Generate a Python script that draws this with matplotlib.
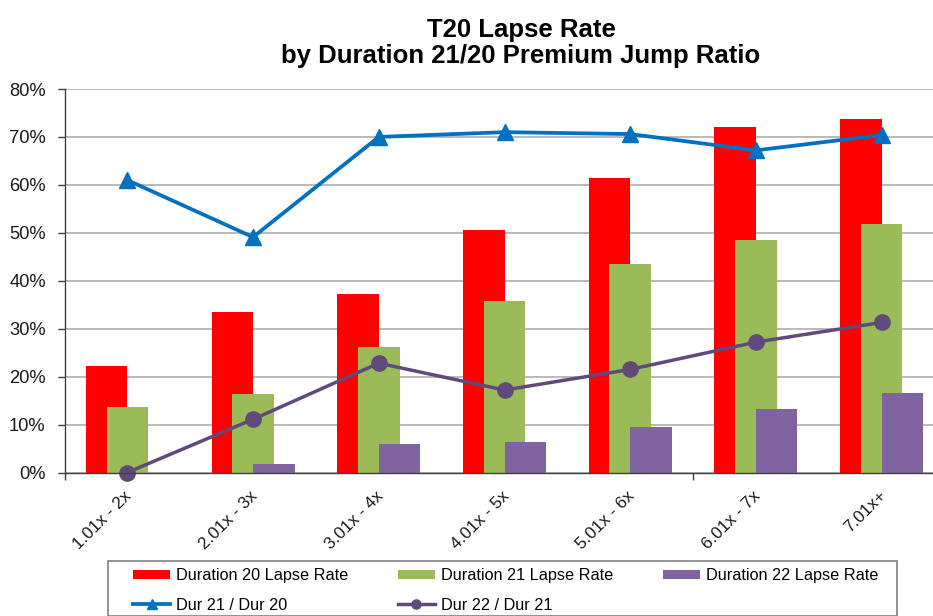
import numpy as np
import matplotlib
matplotlib.use('Agg')
import matplotlib.pyplot as plt
from matplotlib.patches import Rectangle
from matplotlib.ticker import PercentFormatter, MultipleLocator
import matplotlib.transforms as mtransforms

categories = ['1.01x - 2x', '2.01x - 3x', '3.01x - 4x', '4.01x - 5x',
              '5.01x - 6x', '6.01x - 7x', '7.01x+']
dur20 = [0.223, 0.334, 0.372, 0.505, 0.615, 0.721, 0.738]
dur21 = [0.136, 0.164, 0.261, 0.358, 0.434, 0.484, 0.519]
dur22 = [0.000, 0.018, 0.060, 0.063, 0.094, 0.132, 0.165]
ratio_21_20 = [0.610, 0.491, 0.700, 0.710, 0.706, 0.672, 0.704]
ratio_22_21 = [0.000, 0.111, 0.228, 0.172, 0.215, 0.272, 0.313]

plt.rcParams['font.family'] = ['Liberation Sans', 'DejaVu Sans']

W, H = 933, 616
fig = plt.figure(figsize=(W / 100, H / 100), dpi=100)

# plot area runs past the right edge of the picture, like the source
left, right, top, bottom = 64.5, 944.5, 89, 472.5
ax = fig.add_axes([left / W, 1 - bottom / H, (right - left) / W, (bottom - top) / H])

x = np.arange(len(categories))
width = 0.33
off = 0.165

ax.bar(x - off, dur20, width, color='#FF0000', label='Duration 20 Lapse Rate', zorder=2)
ax.bar(x, dur21, width, color='#9BBB59', label='Duration 21 Lapse Rate', zorder=3)
ax.bar(x + off, dur22, width, color='#8064A2', label='Duration 22 Lapse Rate', zorder=4)

l1, = ax.plot(x, ratio_21_20, color='#0070C0', lw=2.7, marker='^', ms=11,
              label='Dur 21 / Dur 20', zorder=5, clip_on=False)
l2, = ax.plot(x, ratio_22_21, color='#604A7B', lw=2.5, marker='o', ms=11,
              label='Dur 22 / Dur 21', zorder=6, clip_on=False)

ax.set_xlim(-0.5, len(categories) - 0.5)
ax.set_ylim(0, 0.8)
ax.yaxis.set_major_locator(MultipleLocator(0.1))
ax.yaxis.set_major_formatter(PercentFormatter(1.0, decimals=0))
ax.grid(axis='y', color='#a6a6a6', lw=1.1, zorder=0)
ax.set_axisbelow(True)

for s in ['top', 'right']:
    ax.spines[s].set_visible(False)
for s in ['left', 'bottom']:
    ax.spines[s].set_color('#404040')
    ax.spines[s].set_linewidth(1.0)
    ax.spines[s].set_zorder(7)

ax.tick_params(axis='y', length=5, width=1, color='#404040', pad=8.5,
               labelsize=13.2, labelcolor='#1a1a1a')
ax.set_xticks(x)
ax.set_xticklabels(categories, rotation=45, ha='right', va='center',
                   rotation_mode='anchor', fontsize=12.3, color='#1a1a1a')
ax.tick_params(axis='x', which='major', length=0, pad=15)
ax.set_xticks([-0.5, 4.5], minor=True)
ax.tick_params(axis='x', which='minor', length=5, width=1, color='#404040')
shift = mtransforms.ScaledTranslation(2 / 100, 0, fig.dpi_scale_trans)
for lab in ax.get_xticklabels():
    lab.set_transform(lab.get_transform() + shift)

fig.text(521 / W, 1 - 18 / H, 'T20 Lapse Rate\nby Duration 21/20 Premium Jump Ratio',
         ha='center', va='top', fontsize=18.5, fontweight='bold',
         linespacing=1.1, color='black')

# legend box
fig.patches.append(Rectangle((108 / W, 0), (897 - 108) / W, 1 - 561 / H,
                             transform=fig.transFigure, fill=False,
                             edgecolor='#808080', lw=1.2))
bars = ax.containers
handles = [bars[0], l1, bars[1], l2, bars[2]]
labels = [h.get_label() for h in handles]
fig.legend(handles, labels, ncol=3, loc='upper left',
           bbox_to_anchor=(133 / W, 1 - 568 / H), frameon=False,
           borderpad=0, borderaxespad=0, fontsize=11.7,
           handlelength=2.28, handleheight=0.5, handletextpad=0.37,
           columnspacing=3.05, labelspacing=0.9, markerscale=0.6)

fig.savefig('out.png', dpi=100)
